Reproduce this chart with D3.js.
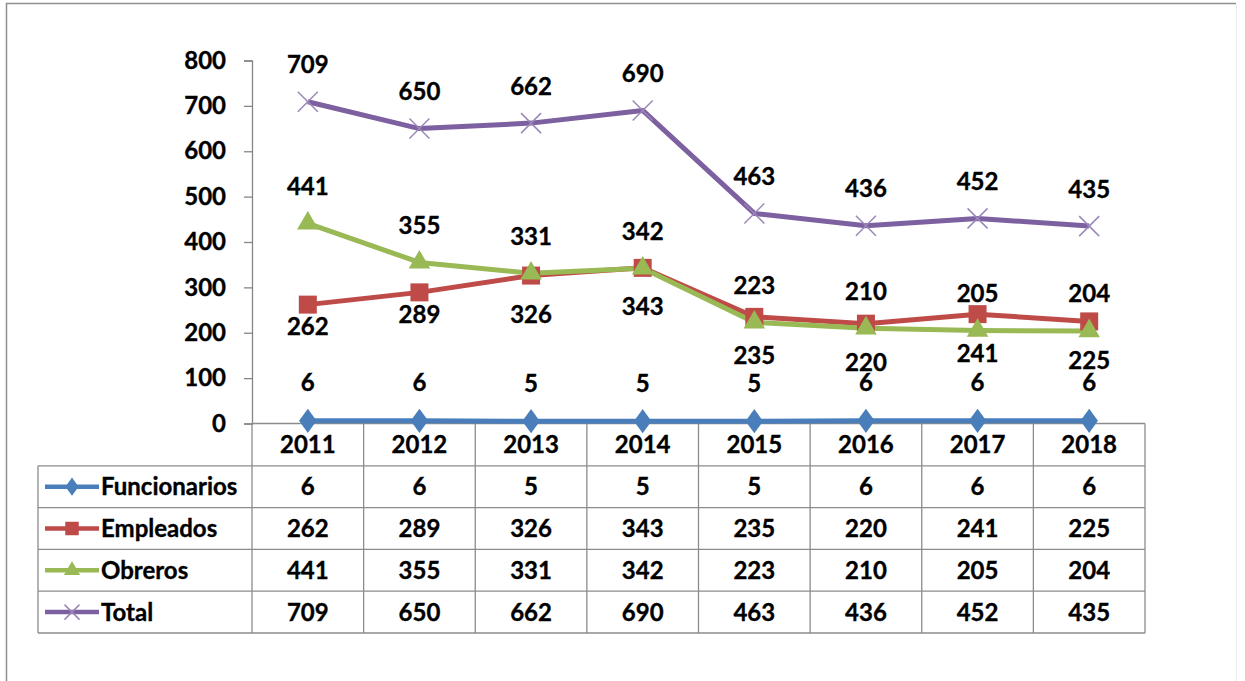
<!DOCTYPE html>
<meta charset="utf-8">
<head>
	<style>
		body { margin: 0; background: #fff; }
		text { font-family: Lato, "Open Sans", sans-serif; font-weight: bold; fill: #000; stroke: #000; stroke-width: 0.35px; }
	</style>
	<script src="https://d3js.org/d3.v7.min.js"></script>
</head>
<body></body>
<script>

	var years = ["2011", "2012", "2013", "2014", "2015", "2016", "2017", "2018"];
	var seriesNames = ["Funcionarios", "Empleados", "Obreros", "Total"];
	var funcionarios = [6, 6, 5, 5, 5, 6, 6, 6];
	var empleados = [262, 289, 326, 343, 235, 220, 241, 225];
	var obreros = [441, 355, 331, 342, 223, 210, 205, 204];
	var total = [709, 650, 662, 690, 463, 436, 452, 435];
	var yTicks = [0, 100, 200, 300, 400, 500, 600, 700, 800];

	var colors = ["#4a7ebb", "#be4b48", "#98b954", "#7d60a0"];
	var values = [funcionarios, empleados, obreros, total];

	var width = 1245, height = 681,
			left = 252, right = 1145,
			tableLeft = 38,
			fontSize = 24;

	var svg = d3.select("body").append("svg")
		.attr("width", width)
		.attr("height", height);

	// chart frame
	svg.append("path")
		.attr("d", "M6.5,681V3.5H1236")
		.attr("fill", "none")
		.attr("stroke", "#8f8f8f")
		.attr("stroke-width", 1.5);
	svg.append("line")
		.attr("x1", 1236.5).attr("x2", 1236.5)
		.attr("y1", 4).attr("y2", 681)
		.attr("stroke", "#ececec");

	var x = d3.scaleBand().domain(years).range([left, right]);
	var y = d3.scaleLinear().domain([0, 800]).range([423.5, 60.5]);
	var rows = d3.scaleBand().domain(["head"].concat(seriesNames)).range([424, 633]);

	// y axis
	var yAxis = svg.append("g")
		.attr("transform", "translate(" + left + ",0)")
		.call(d3.axisLeft(y).tickValues(yTicks).tickSize(8).tickPadding(18));
	yAxis.select(".domain").attr("stroke", "#868686").attr("stroke-width", 1.3);
	yAxis.selectAll(".tick line").attr("stroke", "#868686").attr("stroke-width", 1.3);
	yAxis.selectAll(".tick text")
		.style("font-family", "Lato, sans-serif")
		.style("font-weight", "bold")
		.style("font-size", fontSize + "px")
		.attr("fill", "#000");

	// data table grid
	var grid = svg.append("g")
		.attr("stroke", "#8c8c8c")
		.attr("stroke-width", 1.3)
		.attr("fill", "none");

	grid.append("line")
		.attr("x1", left).attr("x2", right)
		.attr("y1", y(0)).attr("y2", y(0));

	seriesNames.forEach(function(s) {
		grid.append("line")
			.attr("x1", tableLeft).attr("x2", right)
			.attr("y1", rows(s)).attr("y2", rows(s));
	});
	grid.append("line")
		.attr("x1", tableLeft).attr("x2", right)
		.attr("y1", rows.range()[1]).attr("y2", rows.range()[1]);

	grid.append("line")
		.attr("x1", tableLeft).attr("x2", tableLeft)
		.attr("y1", rows(seriesNames[0])).attr("y2", rows.range()[1]);

	years.forEach(function(yr) {
		grid.append("line")
			.attr("x1", x(yr) + x.bandwidth()).attr("x2", x(yr) + x.bandwidth())
			.attr("y1", y(0)).attr("y2", rows.range()[1]);
	});
	grid.append("line")
		.attr("x1", left).attr("x2", left)
		.attr("y1", y(0)).attr("y2", rows.range()[1]);

	// table text
	var cx = function(yr) { return x(yr) + x.bandwidth() / 2; };
	var rowMid = function(r) { return rows(r) + rows.bandwidth() / 2; };

	svg.append("g").selectAll("text")
		.data(years)
	  .enter().append("text")
		.attr("x", cx)
		.attr("y", rowMid("head"))
		.attr("dy", "0.35em")
		.attr("text-anchor", "middle")
		.style("font-size", fontSize + "px")
		.text(function(d) { return d; });

	seriesNames.forEach(function(s, i) {
		var g = svg.append("g");
		g.selectAll("text")
			.data(values[i])
		  .enter().append("text")
			.attr("x", function(d, j) { return cx(years[j]); })
			.attr("y", rowMid(s))
			.attr("dy", "0.35em")
			.attr("text-anchor", "middle")
			.style("font-size", fontSize + "px")
			.text(function(d) { return d; });

		g.append("text")
			.attr("x", 101)
			.attr("y", rowMid(s))
			.attr("dy", "0.35em")
			.style("font-size", fontSize + "px")
			.text(s);

		// legend key
		g.append("line")
			.attr("x1", 45).attr("x2", 99)
			.attr("y1", rowMid(s)).attr("y2", rowMid(s))
			.attr("stroke", colors[i])
			.attr("stroke-width", 4.5);
		drawMarker(g, i, 72, rowMid(s), 0.75);
	});

	// lines
	var line = d3.line()
		.x(function(d, j) { return cx(years[j]); })
		.y(function(d) { return y(d); });

	[0, 1, 2, 3].forEach(function(i) {
		svg.append("path")
			.datum(values[i])
			.attr("d", line)
			.attr("fill", "none")
			.attr("stroke", colors[i])
			.attr("stroke-width", 5)
			.attr("stroke-linejoin", "round");
	});

	[0, 1, 2, 3].forEach(function(i) {
		var g = svg.append("g");
		values[i].forEach(function(d, j) {
			drawMarker(g, i, cx(years[j]), y(d), 1);
		});
	});

	// data labels
	var labels = svg.append("g");
	values.forEach(function(vals, i) {
		vals.forEach(function(d, j) {
			var off;
			if (i == 1) {
				// below, pushed further down where the Obreros point is close by
				off = (obreros[j] - empleados[j] > 20) ? 22 : 39;
			} else if (i == 0) {
				off = -38;
			} else {
				off = -37;
			}
			labels.append("text")
				.attr("x", cx(years[j]))
				.attr("y", y(d) + off)
				.attr("dy", "0.35em")
				.attr("text-anchor", "middle")
				.style("font-size", fontSize + "px")
				.text(d);
		});
	});

	function drawMarker(g, i, px, py, k) {
		if (i == 0) {
			g.append("path")
				.attr("d", d3.symbol(d3.symbolDiamond, 170 * k * k))
				.attr("transform", "translate(" + px + "," + py + ")scale(1.25,1)")
				.attr("fill", colors[0]);
		} else if (i == 1) {
			var s = 18 * k;
			g.append("rect")
				.attr("x", px - s / 2).attr("y", py - s / 2)
				.attr("width", s).attr("height", s)
				.attr("fill", colors[1]);
		} else if (i == 2) {
			g.append("path")
				.attr("d", d3.symbol(d3.symbolTriangle, 200 * k * k))
				.attr("transform", "translate(" + px + "," + py + ")")
				.attr("fill", colors[2]);
		} else {
			var r = 10 * k;
			g.append("path")
				.attr("d", "M" + (px - r) + "," + (py - r) + "L" + (px + r) + "," + (py + r) +
					"M" + (px - r) + "," + (py + r) + "L" + (px + r) + "," + (py - r))
				.attr("stroke", "#9a86b8")
				.attr("stroke-width", 1.5);
		}
	}

</script>
